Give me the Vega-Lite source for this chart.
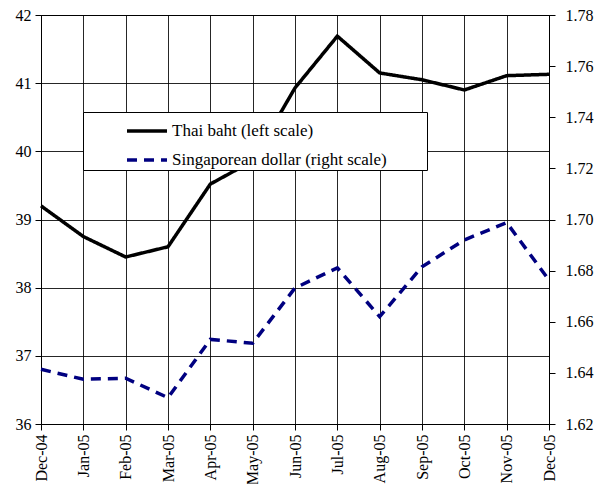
{
  "$schema": "https://vega.github.io/schema/vega-lite/v6.json",
  "width": 508,
  "height": 409,
  "autosize": {"type": "none"},
  "padding": {"left": 41, "top": 15, "right": 50, "bottom": 60},
  "background": "white",
  "config": {
    "font": "Liberation Serif",
    "view": {"stroke": "#000", "strokeWidth": 1},
    "axis": {
      "labelFont": "Liberation Serif",
      "labelFontSize": 16,
      "labelColor": "#000",
      "domainColor": "#000",
      "tickColor": "#000",
      "tickSize": 6,
      "gridColor": "#000",
      "gridOpacity": 0.85,
      "title": null
    },
    "legend": {
      "orient": "none",
      "legendX": 42,
      "legendY": 97,
      "fillColor": "white",
      "strokeColor": "#000",
      "padding": 2,
      "symbolOffset": 45,
      "labelFont": "Liberation Serif",
      "labelFontSize": 17,
      "labelColor": "#000",
      "labelOffset": 8,
      "labelLimit": 400,
      "symbolType": "M-1.333,0H1.333",
      "symbolSize": 900,
      "symbolStrokeWidth": 3.5,
      "rowPadding": 4,
      "titleOrient": "right",
      "titlePadding": 38,
      "titleFontSize": 17
    }
  },
  "data": {
    "values": [
      {"month": "Dec-04", "series": "Thai baht (left scale)", "value": 39.20},
      {"month": "Jan-05", "series": "Thai baht (left scale)", "value": 38.75},
      {"month": "Feb-05", "series": "Thai baht (left scale)", "value": 38.45},
      {"month": "Mar-05", "series": "Thai baht (left scale)", "value": 38.60},
      {"month": "Apr-05", "series": "Thai baht (left scale)", "value": 39.52},
      {"month": "May-05", "series": "Thai baht (left scale)", "value": 39.86},
      {"month": "Jun-05", "series": "Thai baht (left scale)", "value": 40.93},
      {"month": "Jul-05", "series": "Thai baht (left scale)", "value": 41.69},
      {"month": "Aug-05", "series": "Thai baht (left scale)", "value": 41.15},
      {"month": "Sep-05", "series": "Thai baht (left scale)", "value": 41.05},
      {"month": "Oct-05", "series": "Thai baht (left scale)", "value": 40.90},
      {"month": "Nov-05", "series": "Thai baht (left scale)", "value": 41.11},
      {"month": "Dec-05", "series": "Thai baht (left scale)", "value": 41.13},
      {"month": "Dec-04", "series": "Singaporean dollar (right scale)", "value": 1.6414},
      {"month": "Jan-05", "series": "Singaporean dollar (right scale)", "value": 1.6375},
      {"month": "Feb-05", "series": "Singaporean dollar (right scale)", "value": 1.6379},
      {"month": "Mar-05", "series": "Singaporean dollar (right scale)", "value": 1.6303},
      {"month": "Apr-05", "series": "Singaporean dollar (right scale)", "value": 1.6531},
      {"month": "May-05", "series": "Singaporean dollar (right scale)", "value": 1.6516},
      {"month": "Jun-05", "series": "Singaporean dollar (right scale)", "value": 1.6732},
      {"month": "Jul-05", "series": "Singaporean dollar (right scale)", "value": 1.6811},
      {"month": "Aug-05", "series": "Singaporean dollar (right scale)", "value": 1.6620},
      {"month": "Sep-05", "series": "Singaporean dollar (right scale)", "value": 1.6815},
      {"month": "Oct-05", "series": "Singaporean dollar (right scale)", "value": 1.6920},
      {"month": "Nov-05", "series": "Singaporean dollar (right scale)", "value": 1.6988},
      {"month": "Dec-05", "series": "Singaporean dollar (right scale)", "value": 1.6763}
    ]
  },
  "encoding": {
    "x": {
      "field": "month",
      "type": "ordinal",
      "sort": null,
      "scale": {"type": "point", "padding": 0},
      "axis": {"labelAngle": -90, "labelPadding": 4, "labelFontSize": 16, "grid": true, "domain": true}
    },
    "color": {
      "field": "series",
      "type": "nominal",
      "scale": {
        "domain": ["Thai baht (left scale)", "Singaporean dollar (right scale)"],
        "range": ["#000000", "#000080"]
      },
      "legend": {"title": " "}
    },
    "strokeDash": {
      "field": "series",
      "type": "nominal",
      "scale": {
        "domain": ["Thai baht (left scale)", "Singaporean dollar (right scale)"],
        "range": [[1, 0], [10, 7]]
      },
      "legend": {"title": " "}
    }
  },
  "layer": [
    {
      "transform": [{"filter": "datum.series === 'Thai baht (left scale)'"}],
      "mark": {"type": "line", "strokeWidth": 3.5},
      "encoding": {
        "y": {
          "field": "value",
          "type": "quantitative",
          "scale": {"domain": [36, 42], "nice": false, "zero": false},
          "axis": {"orient": "left", "values": [36, 37, 38, 39, 40, 41, 42], "labelPadding": 4, "grid": true}
        }
      }
    },
    {
      "transform": [{"filter": "datum.series === 'Singaporean dollar (right scale)'"}],
      "mark": {"type": "line", "strokeWidth": 3.5},
      "encoding": {
        "y": {
          "field": "value",
          "type": "quantitative",
          "scale": {"domain": [1.62, 1.78], "nice": false, "zero": false},
          "axis": {"orient": "right", "values": [1.62, 1.64, 1.66, 1.68, 1.70, 1.72, 1.74, 1.76, 1.78], "format": ".2f", "labelPadding": 10, "grid": false}
        }
      }
    }
  ],
  "resolve": {"scale": {"y": "independent"}}
}
